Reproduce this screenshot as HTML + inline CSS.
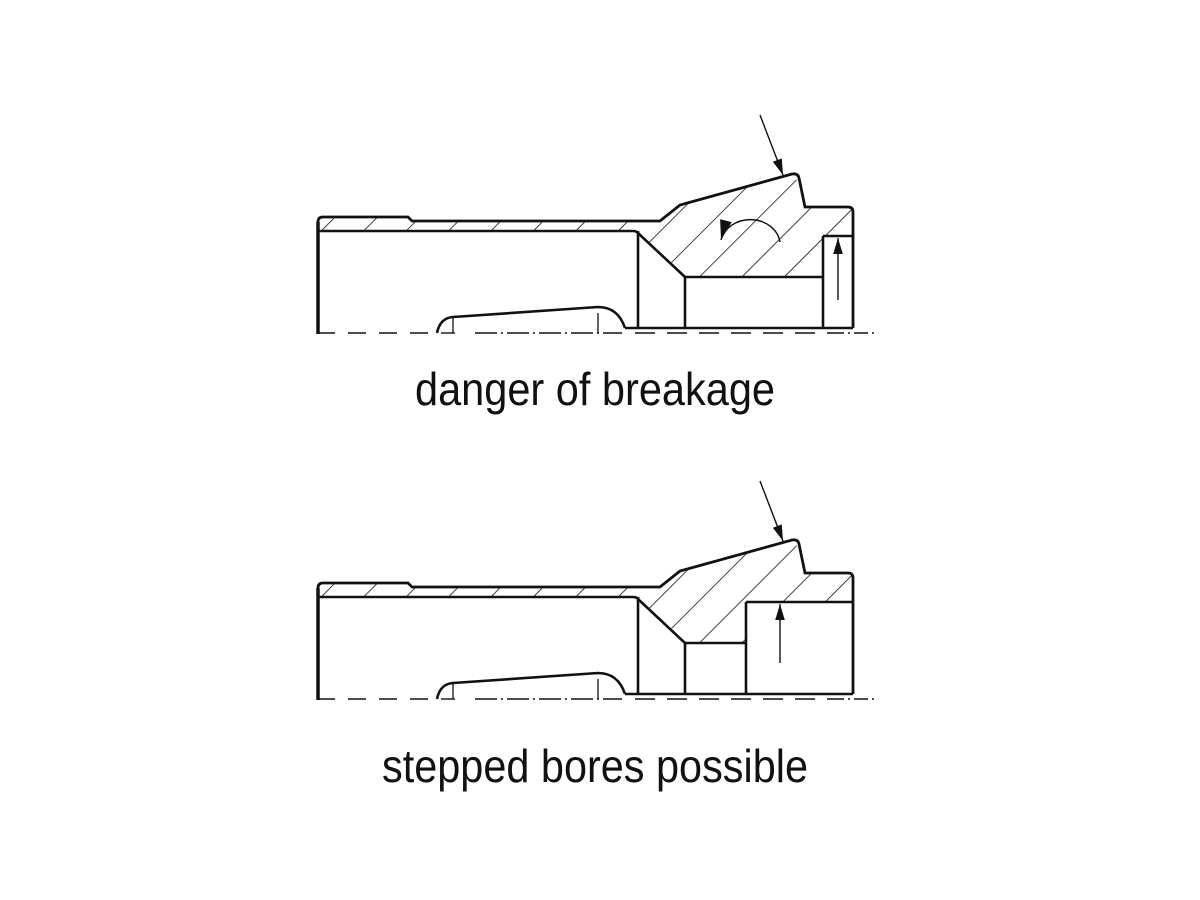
<!DOCTYPE html>
<html><head><meta charset="utf-8"><style>
html,body{margin:0;padding:0;background:#fff;}
svg{display:block;}
</style></head><body>
<svg width="1200" height="900" viewBox="0 0 1200 900" xmlns="http://www.w3.org/2000/svg">
<defs>
<marker id="ahb" viewBox="0 0 10 10" refX="10" refY="5" markerWidth="16" markerHeight="16" markerUnits="userSpaceOnUse" orient="auto">
<path d="M0,2 L10,5 L0,8 z" fill="#111"/>
</marker>
<marker id="ahc" viewBox="0 0 10 10" refX="10" refY="5" markerWidth="20" markerHeight="20" markerUnits="userSpaceOnUse" orient="auto">
<path d="M0,2 L10,5 L0,8 z" fill="#111"/>
</marker>
<pattern id="hatch" patternUnits="userSpaceOnUse" width="30" height="30" patternTransform="rotate(45)">
<line x1="0" y1="0" x2="0" y2="30" stroke="#111" stroke-width="1.6"/>
</pattern>
<g id="base">
  <line x1="318" y1="222" x2="318" y2="334" stroke="#111" stroke-width="3.5"/>
  <path d="M318,231 L633,231 Q637,231 639,234 L685,277" fill="none" stroke="#111" stroke-width="2.6"/>
  <line x1="638" y1="231" x2="638" y2="328" stroke="#111" stroke-width="2.6"/>
  <line x1="685" y1="277" x2="685" y2="328" stroke="#111" stroke-width="2.6"/>
  <line x1="625" y1="328" x2="853" y2="328" stroke="#111" stroke-width="2.6"/>
  <path d="M437,333 Q440,318 453,317 L598,307 Q618,307 625,328" fill="none" stroke="#111" stroke-width="2.6"/>
  <line x1="453" y1="317" x2="453" y2="333" stroke="#111" stroke-width="1.3"/>
  <line x1="598" y1="313" x2="598" y2="333" stroke="#111" stroke-width="1.3"/>
  <line x1="317" y1="333" x2="437" y2="333" stroke="#111" stroke-width="1.4" stroke-dasharray="18,13"/>
  <line x1="441" y1="333" x2="455" y2="333" stroke="#111" stroke-width="1.4"/>
  <line x1="475" y1="333" x2="622" y2="333" stroke="#111" stroke-width="1.4" stroke-dasharray="22,4,2,4"/>
  <line x1="635" y1="333" x2="830" y2="333" stroke="#111" stroke-width="1.4" stroke-dasharray="20,12"/>
  <line x1="830" y1="333" x2="876" y2="333" stroke="#111" stroke-width="1.4" stroke-dasharray="14,4,2,4"/>
  <line x1="760" y1="115" x2="783" y2="175" stroke="#111" stroke-width="1.4" marker-end="url(#ahb)"/>
</g>
</defs>

<path d="M319,217 L408,217 L412,221 L660,221 L680,205 L795,174 L805,207 L852,207 L852,236 L823,236 L823,277 L685,277 L637,231 L319,231 Z" fill="url(#hatch)"/>
<use href="#base"/>
<path d="M318,222 Q318,217 323,217 L408,217 L412,221 L660,221 L680,205 L792,174 Q798,173 799,178 L805,207 L848,207 Q853,207 853,212 L853,328" fill="none" stroke="#111" stroke-width="2.8"/>
<line x1="685" y1="277" x2="823" y2="277" stroke="#111" stroke-width="2.6"/>
<line x1="823" y1="236" x2="823" y2="328" stroke="#111" stroke-width="2.6"/>
<line x1="823" y1="236" x2="853" y2="236" stroke="#111" stroke-width="2.6"/>
<line x1="838" y1="300" x2="838" y2="238" stroke="#111" stroke-width="1.4" marker-end="url(#ahb)"/>
<path d="M780,242 A30,26 0 0 0 721,240" fill="none" stroke="#111" stroke-width="1.4" marker-end="url(#ahc)"/>

<g transform="translate(0,366)">
<path d="M319,217 L408,217 L412,221 L660,221 L680,205 L795,174 L805,207 L852,207 L852,236 L746,236 L746,277 L685,277 L637,231 L319,231 Z" fill="url(#hatch)"/>
<use href="#base"/>
<path d="M318,222 Q318,217 323,217 L408,217 L412,221 L660,221 L680,205 L792,174 Q798,173 799,178 L805,207 L848,207 Q853,207 853,212 L853,328" fill="none" stroke="#111" stroke-width="2.8"/>
<line x1="685" y1="277" x2="746" y2="277" stroke="#111" stroke-width="2.6"/>
<line x1="746" y1="236" x2="746" y2="328" stroke="#111" stroke-width="2.6"/>
<line x1="746" y1="236" x2="853" y2="236" stroke="#111" stroke-width="2.6"/>
<line x1="780" y1="297" x2="780" y2="238" stroke="#111" stroke-width="1.4" marker-end="url(#ahb)"/>
</g>

<text x="415" y="405" font-family="'Liberation Sans Narrow','Liberation Sans',sans-serif" font-size="46" fill="#111" textLength="360" lengthAdjust="spacingAndGlyphs">danger of breakage</text>
<text x="382" y="782" font-family="'Liberation Sans Narrow','Liberation Sans',sans-serif" font-size="46" fill="#111" textLength="426" lengthAdjust="spacingAndGlyphs">stepped bores possible</text>
</svg>
</body></html>
